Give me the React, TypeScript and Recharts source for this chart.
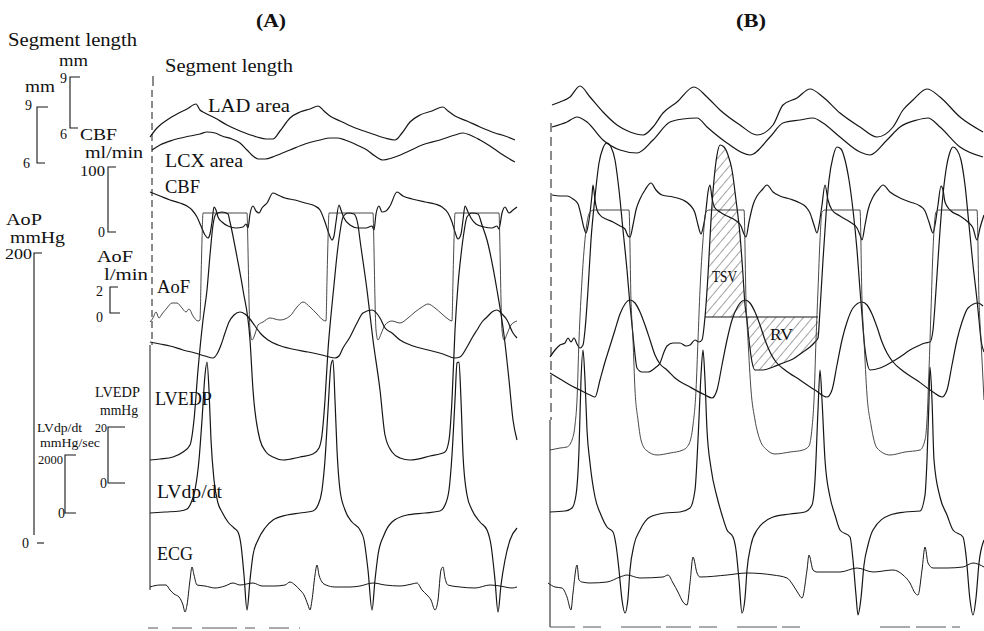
import { ComposedChart, Line, Area, XAxis, YAxis } from "recharts";

type Pt = [number, number];

// ---------- panel A ----------
const ladA: Pt[] = [[150,137],[157,128],[167,120],[177,114],[187,109],[196,104],[200,110],[205,113],[215,118],[227,125],[240,131],[257,137],[266,139],[273,139],[280,131],[290,118],[300,112],[310,109],[318,106],[324,111],[330,116],[340,121],[353,127],[370,133],[385,138],[395,140],[402,133],[410,122],[420,115],[432,111],[443,107],[448,111],[455,116],[467,121],[480,127],[495,133],[505,136],[515,140]];
const lcxA: Pt[] = [[152,150],[160,145],[173,140],[190,136],[200,134],[207,132],[215,133],[222,136],[232,139],[240,143],[247,150],[253,156],[258,159],[265,159],[275,156],[290,150],[305,144],[320,140],[330,138],[337,138],[345,140],[357,145],[367,150],[375,156],[383,160],[392,158],[407,152],[422,145],[440,140],[455,135],[463,133],[470,135],[480,140],[490,146],[500,153],[508,158],[515,162]];
const cbfA: Pt[] = [[150,192],[160,196],[170,200],[180,203],[187,206],[192,210],[197,217],[201,226],[205,235],[208,238],[210,234],[212,222],[214,207],[216,210],[218,217],[222,222],[228,226],[236,228],[243,227],[246,224],[248,228],[250,214],[253,206],[256,211],[259,213],[262,208],[267,203],[273,193],[278,195],[285,198],[295,200],[305,203],[315,206],[320,210],[325,222],[329,234],[332,240],[334,236],[336,222],[339,205],[341,210],[344,218],[350,225],[358,228],[366,228],[372,226],[374,230],[376,214],[379,206],[382,212],[386,211],[390,206],[397,192],[403,196],[412,199],[425,202],[435,204],[442,207],[448,213],[452,222],[455,232],[458,239],[461,234],[463,220],[465,206],[468,212],[471,218],[476,224],[484,227],[492,228],[497,226],[499,229],[502,213],[505,207],[509,213],[513,210],[517,207]];
const aofA: Pt[] = [[150,322],[153,318],[156,312],[159,318],[162,314],[167,308],[172,303],[177,303],[182,308],[186,312],[189,309],[193,316],[198,321],[200,320],[201,280],[202,240],[203,213],[247,213],[248,250],[249,300],[250,330],[252,340],[255,334],[258,325],[263,322],[270,318],[280,320],[290,316],[297,307],[303,302],[310,307],[317,314],[323,320],[326,321],[327,280],[328,240],[329,213],[373,213],[374,250],[375,300],[376,330],[378,340],[381,334],[385,325],[392,321],[400,323],[408,318],[415,312],[422,307],[428,304],[435,308],[442,314],[448,319],[452,321],[453,280],[454,240],[455,213],[499,213],[500,250],[501,300],[502,330],[504,340],[507,334],[511,325],[517,321]];
const aopA: Pt[] = [[150,342],[160,344],[170,346],[183,350],[195,353],[205,356],[213,358],[217,354],[221,345],[225,333],[229,322],[234,315],[240,312],[245,314],[250,319],[255,326],[261,334],[268,340],[278,345],[292,349],[308,352],[322,355],[335,358],[339,356],[343,348],[350,337],[357,323],[363,313],[372,310],[380,318],[385,328],[392,333],[400,340],[413,346],[428,350],[443,354],[455,358],[460,357],[467,347],[472,338],[477,330],[482,322],[487,317],[492,312],[497,310],[502,314],[507,320],[513,333],[517,338]];
const lvedpA: Pt[] = [[150,460],[160,459],[173,457],[183,452],[190,445],[194,420],[198,370],[203,320],[207,290],[210,255],[213,225],[216,214],[222,212],[228,214],[230,222],[237,257],[243,290],[250,340],[253,390],[260,440],[266,452],[273,457],[283,460],[300,457],[313,454],[319,448],[322,435],[325,400],[328,350],[331,315],[334,285],[337,255],[340,232],[343,217],[348,213],[354,214],[358,225],[360,240],[367,290],[373,340],[380,390],[385,435],[392,452],[400,458],[410,460],[430,456],[445,452],[449,440],[452,400],[455,330],[458,285],[461,255],[464,232],[467,217],[472,213],[478,214],[482,225],[487,240],[497,290],[504,335],[509,380],[513,420],[517,440]];
const dpdtA: Pt[] = [[150,513],[165,512],[180,511],[187,509],[191,503],[195,490],[199,460],[202,420],[205,375],[207,362],[209,390],[211,440],[214,480],[218,503],[222,512],[228,522],[234,528],[238,532],[241,545],[244,575],[247,610],[250,580],[253,555],[258,540],[265,528],[273,520],[287,515],[300,513],[313,511],[318,505],[322,490],[325,460],[328,410],[331,365],[333,360],[335,400],[337,450],[340,490],[345,510],[352,522],[360,530],[364,540],[368,570],[372,610],[375,580],[378,555],[384,535],[392,522],[407,515],[425,513],[440,511],[445,505],[449,490],[452,455],[455,400],[457,363],[459,362],[461,400],[463,455],[467,495],[472,510],[480,522],[487,530],[491,545],[495,580],[498,612],[501,585],[505,560],[510,540],[517,528]];
const ecgA: Pt[] = [[150,587],[160,585],[166,585],[170,590],[174,594],[179,597],[183,605],[185,612],[187,605],[190,580],[192,567],[194,575],[197,585],[205,586],[215,588],[225,586],[233,583],[240,585],[253,583],[262,586],[275,586],[285,585],[290,582],[295,585],[300,590],[304,595],[308,605],[310,610],[312,600],[315,575],[317,565],[319,575],[322,582],[326,585],[335,587],[350,587],[360,586],[373,583],[385,585],[400,586],[412,584],[417,583],[422,590],[427,595],[431,600],[435,610],[438,600],[441,570],[443,567],[445,578],[448,585],[460,587],[475,588],[490,585],[500,586],[512,588],[517,587]];

// ---------- panel B ----------
const ladB: Pt[] = [[552,105],[560,102],[570,97],[580,86],[590,97],[603,112],[617,125],[630,132],[643,135],[653,127],[663,113],[677,102],[694,87],[707,97],[720,110],[740,125],[757,135],[773,125],[783,105],[797,98],[810,89],[823,97],[840,113],[860,127],[877,137],[893,127],[903,110],[913,100],[927,89],[940,97],[960,117],[983,132]];
const lcxB: Pt[] = [[552,127],[567,122],[577,117],[587,122],[603,140],[620,150],[637,153],[653,140],[670,122],[683,119],[697,118],[707,127],[727,143],[750,155],[770,137],[783,123],[800,120],[813,118],[823,123],[840,137],[860,152],[870,155],[887,140],[900,127],[917,120],[928,118],[940,127],[960,147],[983,157]];
const cbfB: Pt[] = [[552,195],[560,196],[567,196],[573,199],[578,204],[581,215],[584,228],[586,233],[588,226],[590,213],[592,195],[593,185],[595,200],[597,210],[600,215],[606,219],[613,222],[620,226],[625,229],[628,236],[630,237],[633,225],[636,210],[640,199],[645,190],[651,183],[656,190],[662,195],[673,197],[683,200],[690,205],[695,213],[698,225],[701,234],[703,228],[706,210],[708,192],[710,185],[712,198],[715,208],[720,212],[727,216],[735,220],[741,226],[744,234],[746,237],[749,222],[753,205],[757,196],[762,190],[767,185],[773,192],[780,196],[790,199],[800,203],[806,207],[810,213],[814,225],[817,233],[819,225],[822,205],[825,185],[828,200],[832,210],[840,216],[850,222],[857,228],[860,235],[862,240],[865,225],[868,210],[873,197],[878,190],[883,185],[890,192],[900,198],[910,202],[920,206],[925,211],[929,222],[933,233],[935,225],[938,205],[941,186],[943,190],[945,202],[950,210],[960,216],[968,222],[973,228],[977,240],[980,228],[984,215]];
const aofB: Pt[] = [[550,357],[555,350],[560,345],[565,343],[568,338],[571,342],[574,338],[577,344],[580,348],[583,345],[585,330],[588,290],[591,240],[595,197],[599,163],[603,148],[607,143],[611,147],[615,160],[619,190],[623,230],[627,270],[630,305],[632,325],[634,345],[637,368],[642,372],[648,372],[655,368],[660,363],[664,352],[667,346],[673,343],[680,343],[686,346],[690,345],[695,340],[699,342],[702,340],[705,317],[708,275],[711,220],[714,180],[717,155],[720,145],[724,147],[728,155],[732,170],[736,200],[740,235],[743,275],[745,305],[747,320],[749,340],[752,362],[755,370],[763,370],[773,367],[783,363],[793,359],[803,352],[810,347],[815,342],[818,338],[820,310],[823,260],[826,215],[829,180],[833,157],[837,147],[841,149],[845,160],[849,180],[853,210],[857,250],[860,290],[862,315],[864,340],[867,362],[870,370],[880,368],[890,363],[900,357],[910,350],[918,346],[925,343],[930,342],[933,330],[936,290],[939,245],[942,205],[946,170],[950,152],[953,147],[957,150],[961,160],[965,185],[969,225],[973,265],[977,300],[979,320],[981,340],[984,352]];
const tsvB: Pt[] = [[705,317],[708,275],[711,220],[714,180],[717,155],[720,145],[724,147],[728,155],[732,170],[736,200],[740,235],[743,275],[745,305],[747,317]];
const rvB: Pt[] = [[747,317],[749,340],[752,362],[755,370],[763,370],[773,367],[783,363],[793,359],[803,352],[810,347],[815,342],[818,338]];
const zeroB: Pt[] = [[705,317],[818,317]];
const aopB: Pt[] = [[550,373],[560,379],[570,385],[580,390],[590,395],[595,397],[600,380],[605,362],[610,346],[615,330],[620,314],[625,304],[630,300],[635,303],[640,312],[645,325],[650,340],[655,355],[660,364],[667,370],[675,378],[690,387],[705,395],[712,398],[717,390],[722,365],[727,340],[732,320],[738,306],[745,300],[750,303],[755,312],[760,325],[765,340],[770,352],[776,362],[785,370],[800,380],[815,390],[827,397],[832,390],[837,365],[842,340],[847,322],[853,308],[862,302],[867,305],[872,314],[877,327],[882,342],[887,353],[893,362],[903,371],[918,381],[933,392],[942,397],[947,390],[952,365],[957,340],[962,322],[968,308],[978,303],[983,306]];
const lvedpB: Pt[] = [[550,450],[560,448],[567,447],[572,440],[575,425],[577,400],[579,340],[582,280],[586,230],[590,212],[594,210],[629,210],[631,300],[633,340],[635,390],[638,420],[641,440],[646,450],[657,455],[670,453],[683,450],[689,444],[693,425],[696,390],[698,340],[700,290],[703,240],[706,212],[709,210],[744,210],[746,300],[748,340],[751,390],[755,420],[760,440],[767,450],[775,454],[790,452],[803,450],[809,446],[812,428],[814,400],[816,340],[818,290],[820,240],[822,212],[825,210],[860,210],[862,300],[864,340],[867,395],[871,425],[877,448],[890,455],[905,452],[920,450],[925,440],[927,420],[929,370],[931,310],[933,250],[936,212],[939,210],[977,210],[979,300],[981,340],[983,380],[984,400]];
const dpdtB: Pt[] = [[550,512],[565,511],[572,508],[576,495],[579,450],[581,380],[583,350],[585,380],[587,430],[590,463],[595,497],[601,515],[607,527],[613,532],[616,545],[619,570],[622,600],[625,613],[628,598],[630,570],[634,545],[640,530],[650,517],[665,513],[680,512],[690,508],[695,490],[698,440],[701,375],[703,350],[705,380],[707,430],[711,468],[717,497],[722,515],[727,530],[733,537],[736,550],[739,580],[742,613],[745,598],[747,570],[751,545],[757,530],[773,517],[790,514],[805,512],[812,505],[815,480],[818,410],[820,370],[822,400],[825,460],[830,497],[835,515],[840,530],[850,537],[853,560],[856,595],[858,615],[861,598],[864,565],[868,545],[873,530],[890,515],[905,512],[920,511],[925,495],[927,460],[929,400],[930,367],[932,400],[934,460],[940,497],[947,515],[953,530],[963,537],[966,555],[970,600],[973,615],[976,598],[979,563],[984,540]];
const ecgB: Pt[] = [[548,583],[555,587],[562,588],[567,597],[571,610],[573,593],[577,565],[579,580],[582,582],[590,583],[607,582],[620,577],[627,575],[640,578],[663,577],[668,575],[673,583],[678,592],[683,602],[687,605],[690,583],[693,557],[697,573],[700,577],[727,575],[747,573],[773,575],[787,578],[793,585],[798,593],[802,598],[807,570],[809,555],[813,570],[817,572],[840,572],[857,568],[873,572],[893,570],[903,575],[910,583],[915,593],[918,595],[922,570],[925,547],[928,563],[933,568],[947,568],[963,567],[973,563],[984,567]];

// ---------- baselines, time marks and calibration bars ----------
const baseA1: Pt[] = [[152,90],[152,345]];
const baseA2: Pt[] = [[150,345],[150,590]];
const tickA: Pt[] = [[153,76],[153,86]];
const baseB1: Pt[] = [[551,123],[551,420]];
const baseB2: Pt[] = [[550,420],[550,627]];
const timeA: Pt[] = [[148,628],[300,628]];
const timeB: Pt[] = [[550,627],[800,627]];
const timeB2: Pt[] = [[880,627],[960,627]];

const bars: Pt[][] = [
  [[80,77],[70,77],[70,128],[78,128]], // segment length 9-6 (LCX)
  [[48,107],[37,107],[37,163],[45,163]], // segment length 9-6 (LAD)
  [[116,167],[108,167],[108,232],[116,232]], // CBF 100-0
  [[42,253],[34,253],[34,535]], // AoP 200-0
  [[37,543],[44,543]],
  [[118,287],[110,287],[110,313],[120,313]], // AoF 2-0
  [[125,427],[108,427],[108,483],[125,483]], // LVEDP 20-0
  [[76,455],[65,455],[65,513],[76,513]], // dp/dt 2000-0
];

const traces: { d: Pt[]; w?: number; c?: string }[] = [
  { d: ladA }, { d: lcxA }, { d: cbfA }, { d: aofA, w: 0.9, c: "#333" }, { d: aopA }, { d: lvedpA },
  { d: dpdtA }, { d: ecgA, w: 1 },
  { d: ladB }, { d: lcxB }, { d: cbfB }, { d: aofB }, { d: aopB }, { d: lvedpB, w: 0.9, c: "#333" },
  { d: dpdtB }, { d: ecgB, w: 1 },
];

const pts = (a: Pt[]) => a.map(([x, y]) => ({ x, y }));

type Lbl = { t: string; x: number; y: number; s: number; w?: number; b?: boolean };
const labels: Lbl[] = [
  { t: "(A)", x: 256, y: 27, s: 19, w: 30, b: true },
  { t: "(B)", x: 736, y: 27, s: 19, w: 30, b: true },
  { t: "Segment length", x: 8, y: 46, s: 19, w: 129 },
  { t: "mm", x: 59, y: 66, s: 16, w: 29 },
  { t: "9", x: 60, y: 83, s: 14 },
  { t: "mm", x: 25, y: 92, s: 16, w: 30 },
  { t: "9", x: 25, y: 110, s: 14 },
  { t: "6", x: 60, y: 139, s: 14 },
  { t: "6", x: 23, y: 168, s: 14 },
  { t: "CBF", x: 80, y: 140, s: 16, w: 37 },
  { t: "ml/min", x: 85, y: 158, s: 16, w: 58 },
  { t: "100", x: 80, y: 176, s: 14, w: 25 },
  { t: "0", x: 98, y: 237, s: 14 },
  { t: "AoP", x: 6, y: 225, s: 16, w: 36 },
  { t: "mmHg", x: 10, y: 243, s: 16, w: 55 },
  { t: "200", x: 5, y: 259, s: 14, w: 27 },
  { t: "AoF", x: 97, y: 262, s: 16, w: 36 },
  { t: "l/min", x: 104, y: 280, s: 16, w: 44 },
  { t: "2", x: 96, y: 296, s: 14 },
  { t: "0", x: 96, y: 322, s: 14 },
  { t: "LVEDP", x: 95, y: 397, s: 14, w: 45 },
  { t: "mmHg", x: 100, y: 415, s: 14, w: 38 },
  { t: "20", x: 95, y: 432, s: 13, w: 12 },
  { t: "0", x: 100, y: 488, s: 14 },
  { t: "LVdp/dt", x: 37, y: 432, s: 13, w: 45 },
  { t: "mmHg/sec", x: 40, y: 447, s: 13, w: 60 },
  { t: "2000", x: 38, y: 464, s: 13, w: 25 },
  { t: "0", x: 58, y: 518, s: 14 },
  { t: "0", x: 22, y: 548, s: 14 },
  { t: "Segment length", x: 165, y: 72, s: 18, w: 128 },
  { t: "LAD area", x: 208, y: 112, s: 19, w: 82 },
  { t: "LCX area", x: 165, y: 167, s: 19, w: 78 },
  { t: "CBF", x: 165, y: 193, s: 19, w: 35 },
  { t: "AoF", x: 157, y: 293, s: 19, w: 33 },
  { t: "LVEDP", x: 155, y: 405, s: 18, w: 57 },
  { t: "LVdp/dt", x: 157, y: 498, s: 18, w: 65 },
  { t: "ECG", x: 157, y: 560, s: 18, w: 36 },
  { t: "TSV", x: 712, y: 282, s: 16, w: 25 },
  { t: "RV", x: 770, y: 340, s: 17, w: 23 },
];

const ink = "#161616";

export default function App() {
  return (
    <div style={{ position: "absolute", left: 0, top: 0, width: 984, height: 631, background: "#fff" }}>
      <ComposedChart width={984} height={631} margin={{ top: 0, right: 0, bottom: 0, left: 0 }}>
        <defs>
          <pattern id="hatch" patternUnits="userSpaceOnUse" width="7" height="7" patternTransform="rotate(40)">
            <line x1="0" y1="0" x2="0" y2="7" stroke="#333" strokeWidth="0.9" />
          </pattern>
        </defs>
        <XAxis type="number" dataKey="x" domain={[0, 984]} hide />
        <YAxis type="number" domain={[0, 631]} reversed hide />
        <Area data={pts(tsvB)} dataKey="y" type="monotone" baseValue={317} stroke="none" fill="url(#hatch)" fillOpacity={1} isAnimationActive={false} />
        <Area data={pts(rvB)} dataKey="y" type="monotone" baseValue={317} stroke="none" fill="url(#hatch)" fillOpacity={1} isAnimationActive={false} />
        {traces.map((s, i) => (
          <Line key={"t" + i} data={pts(s.d)} dataKey="y" type="monotone" stroke={s.c ?? ink} strokeWidth={s.w ?? 1.2} dot={false} activeDot={false} isAnimationActive={false} />
        ))}
        <Line data={pts(zeroB)} dataKey="y" type="linear" stroke={ink} strokeWidth={1.1} dot={false} activeDot={false} isAnimationActive={false} />
        <Line data={pts(baseA1)} dataKey="y" type="linear" stroke={ink} strokeWidth={1} strokeDasharray="7 4" dot={false} activeDot={false} isAnimationActive={false} />
        <Line data={pts(baseA2)} dataKey="y" type="linear" stroke={ink} strokeWidth={1} dot={false} activeDot={false} isAnimationActive={false} />
        <Line data={pts(tickA)} dataKey="y" type="linear" stroke={ink} strokeWidth={1} dot={false} activeDot={false} isAnimationActive={false} />
        <Line data={pts(baseB1)} dataKey="y" type="linear" stroke={ink} strokeWidth={1} strokeDasharray="9 5" dot={false} activeDot={false} isAnimationActive={false} />
        <Line data={pts(baseB2)} dataKey="y" type="linear" stroke={ink} strokeWidth={1} dot={false} activeDot={false} isAnimationActive={false} />
        <Line data={pts(timeA)} dataKey="y" type="linear" stroke="#555" strokeWidth={1} strokeDasharray="10 14 20 10 35 8" dot={false} activeDot={false} isAnimationActive={false} />
        <Line data={pts(timeB)} dataKey="y" type="linear" stroke="#555" strokeWidth={1} strokeDasharray="25 8 18 20 40 5" dot={false} activeDot={false} isAnimationActive={false} />
        <Line data={pts(timeB2)} dataKey="y" type="linear" stroke="#555" strokeWidth={1} strokeDasharray="30 6" dot={false} activeDot={false} isAnimationActive={false} />
        {bars.map((b, i) => (
          <Line key={"b" + i} data={pts(b)} dataKey="y" type="linear" stroke={ink} strokeWidth={1.1} dot={false} activeDot={false} isAnimationActive={false} />
        ))}
      </ComposedChart>
      <svg width={984} height={631} style={{ position: "absolute", left: 0, top: 0, pointerEvents: "none" }}>
        {labels.map((l, i) => (
          <text
            key={i}
            x={l.x}
            y={l.y}
            fontSize={l.s}
            fontWeight={l.b ? 700 : 400}
            fontFamily="'Liberation Serif', 'DejaVu Serif', serif"
            fill="#111"
            textLength={l.w}
            lengthAdjust={l.w ? "spacingAndGlyphs" : undefined}
          >
            {l.t}
          </text>
        ))}
      </svg>
    </div>
  );
}
